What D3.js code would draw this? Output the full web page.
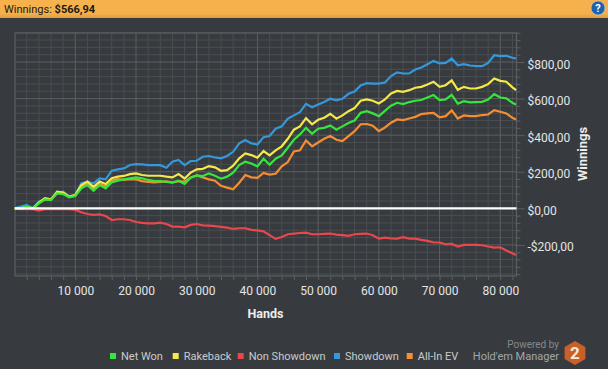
<!DOCTYPE html>
<html lang="en">
  <head>
    <meta charset="UTF-8" />
    <title>Winnings</title>
    <script src="https://cdn.jsdelivr.net/npm/d3@7"></script>
    <style>
      html, body { margin: 0; padding: 0; background: #373b3f; overflow: hidden; }
      svg { display: block; font-family: Roboto, sans-serif; }
    </style>
  </head>
  <body>
    <div class="chart"></div>
    <script>
      const hands = [
        0, 1000, 2000, 3000, 4000, 5000, 6000, 7000, 8000, 9000, 10000,
        11000, 12000, 13000, 14000, 15000, 16000, 17000, 18000, 19000, 20000,
        21000, 22000, 23000, 24000, 25000, 26000, 27000, 28000, 29000, 30000,
        31000, 32000, 33000, 34000, 35000, 36000, 37000, 38000, 39000, 40000,
        41000, 42000, 43000, 44000, 45000, 46000, 47000, 48000, 49000, 50000,
        51000, 52000, 53000, 54000, 55000, 56000, 57000, 58000, 59000, 60000,
        61000, 62000, 63000, 64000, 65000, 66000, 67000, 68000, 69000, 70000,
        71000, 72000, 73000, 74000, 75000, 76000, 77000, 78000, 79000, 80000,
        81000, 82000, 82600,
      ];

      const netWon = [
        0, 0, 9, 0, 27, 49, 45, 82, 78, 60, 67,
        109, 127, 96, 127, 109, 142, 151, 158, 164, 169,
        164, 155, 149, 149, 144, 140, 151, 133, 167, 180,
        176, 191, 178, 162, 173, 195, 236, 255, 245, 229,
        271, 238, 271, 289, 331, 375, 404, 440, 408, 435,
        440, 453, 430, 448, 466, 480, 522, 531, 519, 504,
        533, 561, 577, 570, 581, 588, 592, 606, 619, 592,
        595, 620, 572, 586, 579, 581, 582, 595, 624, 606,
        601, 577, 567,
      ];
      const rakeback = [
        0, 0, 4, 0, 31, 55, 49, 91, 86, 64, 73,
        127, 146, 118, 146, 133, 164, 173, 177, 187, 191,
        182, 178, 178, 178, 173, 169, 187, 163, 195, 213,
        216, 231, 224, 205, 209, 233, 273, 300, 291, 277,
        313, 289, 317, 339, 380, 430, 448, 493, 459, 484,
        495, 517, 490, 508, 531, 548, 588, 595, 588, 573,
        595, 628, 642, 637, 646, 659, 664, 677, 692, 664,
        673, 700, 648, 664, 655, 655, 664, 679, 710, 697,
        692, 661, 646,
      ];
      const nonShowdown = [
        0, -5, -5, -5, -13, -5, -5, -5, -4, -5, -9,
        -22, -31, -36, -33, -42, -64, -60, -60, -64, -75,
        -80, -82, -82, -78, -86, -100, -100, -104, -91, -86,
        -93, -95, -97, -102, -106, -113, -109, -109, -118, -121,
        -126, -147, -167, -157, -142, -138, -135, -133, -142, -142,
        -140, -138, -144, -147, -151, -142, -140, -138, -147, -166,
        -160, -164, -166, -158, -166, -166, -173, -178, -186, -187,
        -197, -195, -209, -200, -200, -200, -202, -209, -215, -213,
        -231, -246, -255,
      ];
      const showdown = [
        0, 9, 18, 0, 36, 49, 49, 85, 91, 64, 73,
        137, 146, 137, 164, 158, 206, 213, 218, 237, 242,
        240, 236, 236, 236, 222, 255, 264, 236, 258, 260,
        282, 286, 278, 273, 286, 309, 355, 373, 355, 349,
        389, 395, 435, 448, 490, 508, 526, 571, 553, 568,
        581, 599, 590, 599, 626, 638, 672, 684, 682, 682,
        688, 723, 743, 737, 737, 759, 770, 788, 806, 792,
        795, 819, 782, 788, 781, 777, 777, 795, 837, 832,
        834, 823, 819,
      ];
      const allInEv = [
        0, 0, 6, 0, 29, 50, 47, 85, 82, 62, 70,
        118, 135, 105, 135, 118, 152, 160, 156, 160, 158,
        149, 145, 142, 144, 147, 142, 149, 146, 169, 180,
        169, 158, 151, 123, 113, 104, 140, 182, 169, 167,
        193, 184, 189, 229, 253, 311, 317, 371, 339, 360,
        380, 395, 375, 368, 395, 422, 459, 461, 452, 422,
        442, 468, 486, 482, 491, 500, 515, 519, 522, 497,
        504, 535, 491, 508, 504, 504, 510, 513, 537, 528,
        519, 495, 486,
      ];

      const seriesNames = ["Net Won", "Rakeback", "Non Showdown", "Showdown", "All-In EV"];
      const seriesValues = [netWon, rakeback, nonShowdown, showdown, allInEv];
      const seriesColors = ["#35e63c", "#f4e84a", "#e9474c", "#3498db", "#f68d32"];
      const drawOrder = [2, 3, 4, 1, 0];
      const legendX = [110, 172.7, 237.7, 334, 406.7];

      const xMajor = [10000, 20000, 30000, 40000, 50000, 60000, 70000, 80000];
      const yMajor = [-200, 0, 200, 400, 600, 800];
      const winningsLabel = "$566,94";

      const width = 608;
      const height = 369;
      const plotLeft = 15, plotRight = 516.5, plotTop = 33, plotBottom = 276;

      const svg = d3
        .select(".chart")
        .append("svg")
        .attr("width", width)
        .attr("height", height)
        .attr("viewBox", [0, 0, width, height]);

      const x = d3.scaleLinear().domain([0, 82670]).range([14.6, plotRight]);
      const y = d3.scaleLinear().domain([0, 800]).range([208.3, 62]);

      const xMinor = d3.range(2000, 82670, 2000).filter((d) => d % 10000 != 0);
      const yMinor = d3.range(-360, 961, 40).filter((d) => d % 200 != 0);

      // header bar
      const defs = svg.append("defs");
      const grad = defs
        .append("linearGradient")
        .attr("id", "bar")
        .attr("x1", 0)
        .attr("x2", 0)
        .attr("y1", 0)
        .attr("y2", 1);
      grad.append("stop").attr("offset", "0%").attr("stop-color", "#f6b24e");
      grad.append("stop").attr("offset", "75%").attr("stop-color", "#f5b04b");
      grad.append("stop").attr("offset", "100%").attr("stop-color", "#dc9c40");
      svg.append("rect").attr("width", width).attr("height", 18).attr("fill", "url(#bar)");

      const heading = svg
        .append("text")
        .attr("x", 4)
        .attr("y", 13)
        .attr("fill", "#1d1a14")
        .style("font-size", "11px");
      heading.append("tspan").text("Winnings: ");
      heading.append("tspan").style("font-weight", "bold").text(winningsLabel);

      svg.append("circle").attr("cx", 598).attr("cy", 8).attr("r", 7).attr("fill", "#1f62a8").attr("stroke", "#cfd8e0").attr("stroke-width", 0.6);
      svg
        .append("text")
        .attr("x", 598)
        .attr("y", 12)
        .attr("text-anchor", "middle")
        .attr("fill", "white")
        .style("font-size", "11px")
        .style("font-weight", "bold")
        .text("?");

      // grid and ticks, minor first
      const minorColor = "#4a4e51";
      const majorColor = "#5c5f62";

      const gridX = (values, color) => {
        svg
          .append("g")
          .selectAll("line")
          .data(values)
          .enter()
          .append("line")
          .attr("x1", (d) => x(d))
          .attr("x2", (d) => x(d))
          .attr("y1", plotTop)
          .attr("y2", plotBottom)
          .attr("stroke", color);
      };
      const gridY = (values, color) => {
        svg
          .append("g")
          .selectAll("line")
          .data(values)
          .enter()
          .append("line")
          .attr("x1", plotLeft)
          .attr("x2", plotRight)
          .attr("y1", (d) => y(d))
          .attr("y2", (d) => y(d))
          .attr("stroke", color);
      };
      gridX(xMinor, minorColor);
      gridY(yMinor, minorColor);
      gridX(xMajor, majorColor);
      gridY(yMajor, majorColor);

      svg
        .append("rect")
        .attr("x", plotLeft)
        .attr("y", plotTop)
        .attr("width", plotRight - plotLeft)
        .attr("height", plotBottom - plotTop)
        .attr("fill", "none")
        .attr("stroke", majorColor)
        .attr("stroke-width", 1.2);

      const xAxisMinor = d3.axisBottom(x).tickValues(xMinor).tickSize(4).tickFormat("");
      const xAxis = d3
        .axisBottom(x)
        .tickValues(xMajor)
        .tickSize(4)
        .tickPadding(6)
        .tickFormat((d) => d3.format(",")(d).replace(",", " "));
      const yAxisMinor = d3.axisRight(y).tickValues(yMinor).tickSize(4).tickFormat("");
      const yAxis = d3
        .axisRight(y)
        .tickValues(yMajor)
        .tickSize(8)
        .tickPadding(3)
        .tickFormat((d) => (d < 0 ? "-" : "") + "$" + Math.abs(d) + ",00");

      const styleAxis = (g) => {
        g.select(".domain").remove();
        g.selectAll(".tick line").attr("stroke", majorColor);
        g.selectAll(".tick text")
          .attr("fill", "#e4e5e6")
          .style("font-family", "Roboto, sans-serif")
          .style("font-size", "12px");
      };

      svg.append("g").attr("transform", `translate(0,${plotBottom})`).call(xAxisMinor).call(styleAxis);
      svg.append("g").attr("transform", `translate(0,${plotBottom})`).call(xAxis).call(styleAxis);
      svg.append("g").attr("transform", `translate(${plotRight},0)`).call(yAxisMinor).call(styleAxis);
      svg
        .append("g")
        .attr("transform", `translate(${plotRight},0)`)
        .call(yAxis)
        .call(styleAxis)
        .call((g) => g.selectAll(".tick text").attr("dy", "0.5em"));

      // lines
      const lineGen = d3
        .line()
        .x((d, i) => x(hands[i]))
        .y((d) => y(d));

      svg
        .append("g")
        .selectAll("path")
        .data(drawOrder)
        .enter()
        .append("path")
        .attr("d", (s) => lineGen(seriesValues[s]))
        .attr("fill", "none")
        .attr("stroke", (s) => seriesColors[s])
        .attr("stroke-width", 2.2)
        .attr("stroke-linejoin", "miter");

      // zero line sits over the series
      svg
        .append("line")
        .attr("x1", plotLeft)
        .attr("x2", plotRight)
        .attr("y1", y(0))
        .attr("y2", y(0))
        .attr("stroke", "white")
        .attr("stroke-width", 2.2);

      // axis titles
      svg
        .append("text")
        .attr("x", 265.5)
        .attr("y", 318)
        .attr("text-anchor", "middle")
        .attr("fill", "#eeeeee")
        .style("font-size", "12.5px")
        .style("font-weight", "bold")
        .text("Hands");
      svg
        .append("text")
        .attr("transform", "translate(587,154) rotate(-90)")
        .attr("text-anchor", "middle")
        .attr("fill", "#eeeeee")
        .style("font-size", "13px")
        .style("font-weight", "bold")
        .text("Winnings");

      // legend
      const legend = svg
        .append("g")
        .selectAll("g")
        .data(seriesNames)
        .enter()
        .append("g")
        .attr("transform", (d, i) => `translate(${legendX[i]},353)`);
      legend
        .append("rect")
        .attr("width", 6)
        .attr("height", 6)
        .attr("fill", (d, i) => seriesColors[i]);
      legend
        .append("text")
        .attr("x", 11)
        .attr("y", 7)
        .attr("fill", "#c9cbcd")
        .style("font-size", "11px")
        .text((d) => d);

      // branding
      svg
        .append("text")
        .attr("x", 559)
        .attr("y", 348)
        .attr("text-anchor", "end")
        .attr("fill", "#85888b")
        .style("font-size", "10px")
        .text("Powered by");
      svg
        .append("text")
        .attr("x", 559)
        .attr("y", 360)
        .attr("text-anchor", "end")
        .attr("fill", "#a3a6a8")
        .style("font-size", "11px")
        .text("Hold'em Manager");

      const hexPoints = d3.range(6).map((i) => {
        const a = (Math.PI / 3) * i - Math.PI / 2;
        return [575 + 12 * Math.cos(a), 353 + 12 * Math.sin(a)];
      });
      svg.append("polygon").attr("points", hexPoints.join(" ")).attr("fill", "#c9602a");
      svg
        .append("text")
        .attr("x", 575)
        .attr("y", 359)
        .attr("text-anchor", "middle")
        .attr("fill", "#f3e9df")
        .style("font-size", "17px")
        .style("font-weight", "bold")
        .text("2");
    </script>
  </body>
</html>
